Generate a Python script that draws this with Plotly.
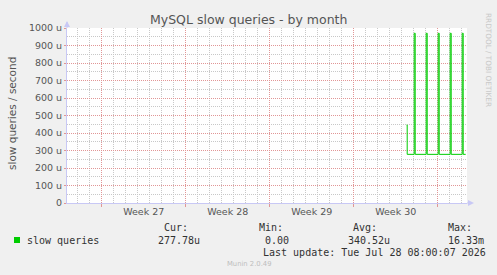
import plotly.graph_objects as go

# ---------------- data ----------------
times = ["2026-07-23 10:00", "2026-07-23 11:00",
         "2026-07-24 01:00", "2026-07-24 03:00",
         "2026-07-25 01:00", "2026-07-25 03:00",
         "2026-07-26 01:00", "2026-07-26 03:00",
         "2026-07-27 01:00", "2026-07-27 03:00",
         "2026-07-28 01:00", "2026-07-28 03:00",
         "2026-07-28 08:00"]
values_u = [446, 278, 970, 278, 970, 278, 970, 278, 970, 278, 970, 278, 278]

week_starts = ["2026-06-28", "2026-07-05", "2026-07-12", "2026-07-19", "2026-07-26"]
week_mids = ["2026-07-01 12:00", "2026-07-08 12:00", "2026-07-15 12:00", "2026-07-22 12:00"]
week_labels = ["Week 27", "Week 28", "Week 29", "Week 30"]

y_ticks = [0, 100, 200, 300, 400, 500, 600, 700, 800, 900, 1000]
y_ticktext = ["0", "100 u", "200 u", "300 u", "400 u", "500 u", "600 u",
              "700 u", "800 u", "900 u", "1000 u"]

x_range = ["2026-06-25 02:38", "2026-07-28 10:36"]

legend_name = "slow queries"
stat_heads = ["Cur:", "Min:", "Avg:", "Max:"]
stat_vals = ["277.78u", "0.00", "340.52u", "16.33m"]

# ---------------- layout helpers ----------------
W, H = 497, 275
L, R, T, B = 67, 467, 28, 203


def px(x):
    return (x - L) / (R - L)


def py(y):
    return (B - y) / (B - T)


MAJOR = "rgba(225,150,150,1)"
MINOR = "rgba(200,200,200,1)"
AXIS = "rgb(200,200,245)"
TXT = "rgb(85,85,85)"

fig = go.Figure()
fig.add_trace(go.Scatter(x=times, y=values_u, mode="lines", line_shape="hv",
                         line=dict(color="#00CC00", width=1), name=legend_name,
                         showlegend=False, hoverinfo="skip"))
fig.add_trace(go.Scatter(x=[x_range[0]], y=[None], xaxis="x2", mode="lines",
                         showlegend=False, hoverinfo="skip"))

fig.update_layout(
    width=W, height=H,
    margin=dict(l=L, r=W - R, t=T, b=H - B, pad=0),
    paper_bgcolor="#F0F0F0", plot_bgcolor="#FFFFFF",
    font=dict(family="DejaVu Sans", color=TXT, size=9.5),
    xaxis=dict(type="date", range=x_range, tickmode="array",
               tickvals=week_mids, ticktext=week_labels,
               showgrid=False, ticks="", zeroline=False,
               showline=True, linecolor=AXIS, linewidth=1,
               tickfont=dict(size=9.5, color=TXT),
               minor=dict(tickmode="linear", tick0="2026-06-28", dtick=86400000,
                          showgrid=True, gridcolor=MINOR, griddash="1px,1px",
                          gridwidth=1, ticks="")),
    xaxis2=dict(type="date", range=x_range, overlaying="x", anchor="y",
                side="bottom", tickmode="array", tickvals=week_starts,
                showticklabels=False, showgrid=True, gridcolor=MAJOR,
                griddash="1px,1px", gridwidth=1, ticks="outside", ticklen=3,
                tickcolor=MAJOR, zeroline=False, showline=False),
    yaxis=dict(range=[0, 1000], tickmode="array", tickvals=y_ticks,
               ticktext=y_ticktext, showgrid=True, gridcolor=MAJOR,
               griddash="1px,1px", gridwidth=1, zeroline=False,
               showline=True, linecolor=AXIS, linewidth=1,
               ticks="outside", ticklen=2, tickcolor=MAJOR,
               tickfont=dict(size=9.5, color=TXT),
               minor=dict(tickmode="linear", tick0=0, dtick=50, showgrid=True,
                          gridcolor=MINOR, griddash="1px,1px", gridwidth=1,
                          ticks="")),
)

# axis arrows
fig.add_shape(type="path", xref="paper", yref="paper",
              path=f"M {px(64)} {py(27)} L {px(67)} {py(21)} L {px(70)} {py(27)} Z",
              fillcolor=AXIS, line=dict(width=0))
fig.add_shape(type="line", xref="paper", yref="paper",
              x0=0, x1=0, y0=1, y1=py(22), line=dict(color=AXIS, width=1))
fig.add_shape(type="path", xref="paper", yref="paper",
              path=f"M {px(468)} {py(200)} L {px(474)} {py(203)} L {px(468)} {py(206)} Z",
              fillcolor=AXIS, line=dict(width=0))
fig.add_shape(type="line", xref="paper", yref="paper",
              x0=1, x1=px(470), y0=0, y1=0, line=dict(color=AXIS, width=1))

ann = []
# title
ann.append(dict(x=px(248), y=py(20), text="MySQL slow queries - by month",
                font=dict(size=12.5, color=TXT), xanchor="center", yanchor="middle"))
# y title
ann.append(dict(x=px(12), y=py(113), text="slow queries / second", textangle=-90,
                font=dict(size=10.5, color=TXT), xanchor="center", yanchor="middle"))
# rrdtool credit
ann.append(dict(x=px(489), y=py(60), text="RRDTOOL / TOBI OETIKER", textangle=90,
                font=dict(size=7.3, color="rgb(200,200,200)"),
                xanchor="center", yanchor="middle"))

MONO = dict(family="DejaVu Sans Mono", size=10, color="rgb(50,50,50)")
ann.append(dict(x=px(26), y=py(240), text=legend_name, font=MONO,
                xanchor="left", yanchor="middle"))
head_x = [163, 258, 352, 446.5]
val_x = [157, 264, 346.5, 446.5]
for hx, vx, h, v in zip(head_x, val_x, stat_heads, stat_vals):
    ann.append(dict(x=px(hx), y=py(227), text=h, font=MONO, xanchor="left", yanchor="middle"))
    ann.append(dict(x=px(vx), y=py(240), text=v, font=MONO, xanchor="left", yanchor="middle"))
ann.append(dict(x=px(261.5), y=py(252), text="Last update: Tue Jul 28 08:00:07 2026",
                font=MONO, xanchor="left", yanchor="middle"))
ann.append(dict(x=px(249), y=py(264), text="Munin 2.0.49",
                font=dict(size=6.8, color="rgb(190,190,190)"),
                xanchor="center", yanchor="middle"))
for a in ann:
    a.update(xref="paper", yref="paper", showarrow=False, borderpad=0)
fig.update_layout(annotations=ann)

# legend colour box
fig.add_shape(type="rect", xref="paper", yref="paper",
              x0=px(14), x1=px(20), y0=py(243), y1=py(237),
              fillcolor="#00CC00", line=dict(width=0))

fig.write_html("out.html")
